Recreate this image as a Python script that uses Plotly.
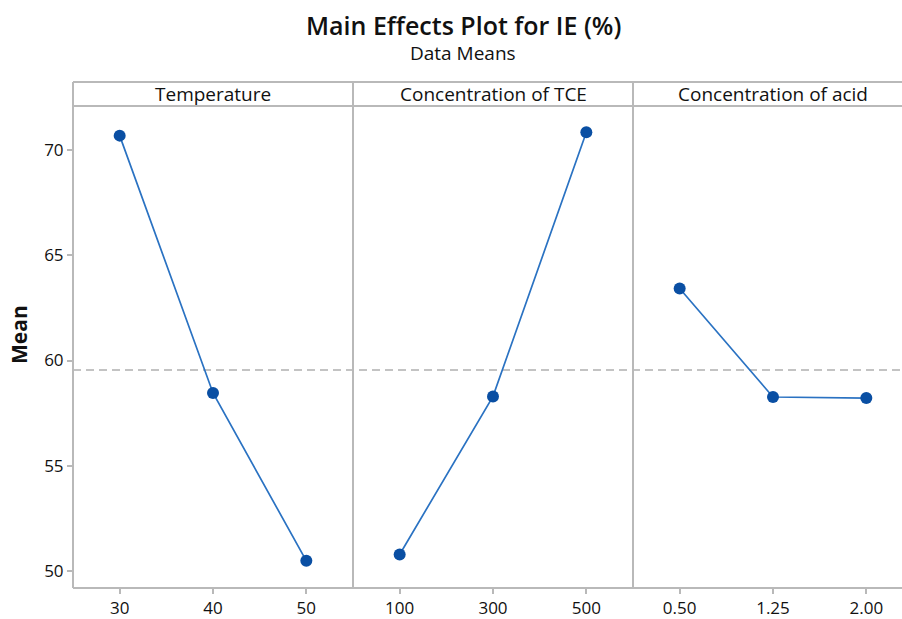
import plotly.graph_objects as go

# Factor levels and data means for IE (%)
temperature_levels = ["30", "40", "50"]
temperature_means = [70.67, 58.46, 50.50]

tce_levels = ["100", "300", "500"]
tce_means = [50.80, 58.30, 70.83]

acid_levels = ["0.50", "1.25", "2.00"]
acid_means = [63.42, 58.27, 58.22]

panel_titles = ["Temperature", "Concentration of TCE", "Concentration of acid"]
overall_mean = 59.55
y_ticks = [50, 55, 60, 65, 70]

W, H = 902, 619
ML, MR, MT, MB = 73, 0, 82, 29
plot_w = W - ML - MR
plot_h = H - MT - MB
header_h = 24
panel_px = 280
y_top = (plot_h - header_h) / plot_h

LINE = "#2a72c2"
MARK = "#0a4fa3"
FRAME = "#b9b9b9"
FONT = "Open Sans"
TEXT = "#111111"

fig = go.Figure()

panels = [
    (temperature_levels, temperature_means),
    (tce_levels, tce_means),
    (acid_levels, acid_means),
]
edges = [0, panel_px / plot_w, 2 * panel_px / plot_w, 1.0]

for i, (levels, means) in enumerate(panels):
    xa = "x" if i == 0 else f"x{i + 1}"
    fig.add_trace(go.Scatter(
        x=levels, y=means, mode="lines+markers",
        xaxis=xa, yaxis="y",
        line=dict(color=LINE, width=1.7),
        marker=dict(color=MARK, size=12),
        showlegend=False, hoverinfo="x+y",
    ))
    width_px = (edges[i + 1] - edges[i]) * plot_w
    span = width_px / (panel_px / 3)
    axis = dict(
        domain=[edges[i], edges[i + 1]],
        type="category",
        categoryorder="array", categoryarray=levels,
        range=[-0.5, -0.5 + span],
        anchor="y",
        showgrid=False, zeroline=False, showline=False,
        ticks="outside", ticklen=5, tickwidth=1.5, tickcolor=FRAME,
        tickfont=dict(family=FONT, size=17, color=TEXT),
        fixedrange=True,
    )
    key = "xaxis" if i == 0 else f"xaxis{i + 1}"
    fig.update_layout(**{key: axis})

fig.update_layout(
    yaxis=dict(
        domain=[0, y_top],
        range=[49.21, 72.08],
        tickvals=y_ticks,
        showgrid=False, zeroline=False, showline=False,
        ticks="outside", ticklen=5, tickwidth=1.5, tickcolor=FRAME,
        tickfont=dict(family=FONT, size=17, color=TEXT),
        fixedrange=True,
    ),
)

shapes = []
# panel frame: outer left edge, dividers, bottom, header strip lines
for xe in edges[:3]:
    shapes.append(dict(type="line", xref="paper", yref="paper",
                       x0=xe, x1=xe, y0=0, y1=1,
                       line=dict(color=FRAME, width=2)))
for yy in (0, y_top, 1):
    shapes.append(dict(type="line", xref="paper", yref="paper",
                       x0=0, x1=1, y0=yy, y1=yy,
                       line=dict(color=FRAME, width=2)))
# overall mean reference line
shapes.append(dict(type="line", xref="paper", yref="y",
                   x0=0, x1=1, y0=overall_mean, y1=overall_mean,
                   line=dict(color="#b0b0b0", width=1.6, dash="8px,5px"),
                   layer="below"))

annotations = []
for i, t in enumerate(panel_titles):
    annotations.append(dict(
        text=t, xref="paper", yref="paper",
        x=(edges[i] + edges[i] + panel_px / plot_w) / 2, y=(1 + y_top) / 2,
        xanchor="center", yanchor="middle", showarrow=False,
        font=dict(family=FONT, size=19, color=TEXT),
    ))

cx = (463 - ML) / plot_w
annotations.append(dict(
    text="Main Effects Plot for IE (%)", xref="paper", yref="paper",
    x=cx, y=1 + (MT - 25) / plot_h, xanchor="center", yanchor="middle",
    showarrow=False, font=dict(family=FONT, size=25, color=TEXT, weight=600),
))
annotations.append(dict(
    text="Data Means", xref="paper", yref="paper",
    x=cx, y=1 + (MT - 53) / plot_h, xanchor="center", yanchor="middle",
    showarrow=False, font=dict(family=FONT, size=19, color=TEXT),
))
annotations.append(dict(
    text="Mean", xref="paper", yref="paper",
    x=-(ML - 19) / plot_w, y=1 - (336 - MT) / plot_h,
    xanchor="center", yanchor="middle", textangle=-90,
    showarrow=False, font=dict(family=FONT, size=21, color=TEXT, weight=700),
))

fig.update_layout(
    width=W, height=H,
    margin=dict(l=ML, r=MR, t=MT, b=MB),
    paper_bgcolor="white", plot_bgcolor="white",
    shapes=shapes, annotations=annotations,
    showlegend=False,
)

fig.write_html("out.html", config={"displayModeBar": False})
